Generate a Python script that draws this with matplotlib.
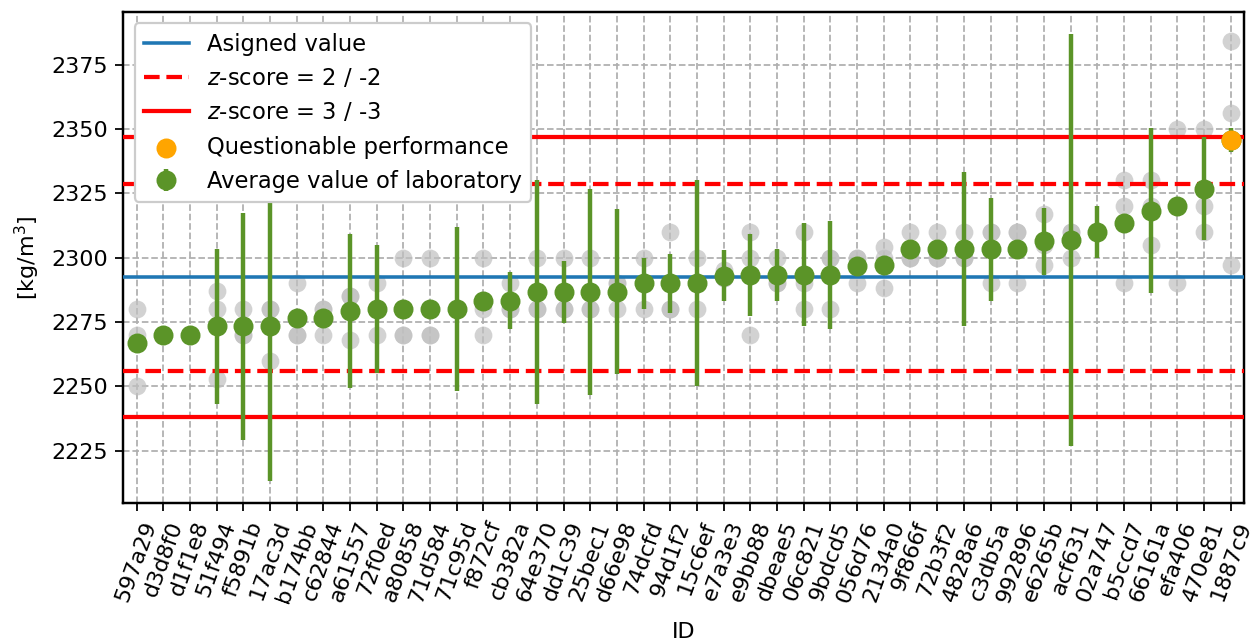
import numpy as np
import matplotlib
matplotlib.use("Agg")
import matplotlib.pyplot as plt

# Laboratory identifiers (sorted by average value)
lab_ids = [
    "597a29", "d3d8f0", "d1f1e8", "51f494", "f5891b", "17ac3d", "b174bb",
    "c62844", "a61557", "72f0ed", "a80858", "71d584", "71c95d", "f872cf",
    "cb382a", "64e370", "dd1c39", "25bec1", "d66e98", "74dcfd", "94d1f2",
    "15c6ef", "e7a3e3", "e9bb88", "dbeae5", "06c821", "9bdcd5", "056d76",
    "2134a0", "9f866f", "72b3f2", "4828a6", "c3db5a", "992896", "e6265b",
    "acf631", "02a747", "b5ccd7", "66161a", "efa406", "470e81", "1887c9",
]

# Individual measurements of each laboratory [kg/m3]
measurements = [
    [2280, 2270, 2250], [2270, 2270, 2270], [2270, 2270, 2270],
    [2287, 2280, 2253], [2280, 2270, 2270], [2280, 2280, 2260],
    [2290, 2270, 2270], [2280, 2280, 2270], [2285, 2285, 2268],
    [2290, 2280, 2270], [2300, 2270, 2270], [2300, 2270, 2270],
    [2280, 2280, 2280], [2300, 2280, 2270], [2290, 2280, 2280],
    [2300, 2280, 2280], [2300, 2280, 2280], [2300, 2280, 2280],
    [2290, 2290, 2280], [2300, 2290, 2280], [2310, 2280, 2280],
    [2300, 2290, 2280], [2295, 2292, 2292], [2310, 2300, 2270],
    [2300, 2290, 2290], [2310, 2290, 2280], [2300, 2300, 2280],
    [2300, 2300, 2290], [2304, 2300, 2288], [2310, 2300, 2300],
    [2310, 2300, 2300], [2310, 2300, 2300], [2310, 2310, 2290],
    [2310, 2310, 2290], [2317, 2305, 2297], [2310, 2310, 2300],
    [2310, 2310, 2310], [2330, 2320, 2290], [2330, 2320, 2305],
    [2350, 2320, 2290], [2350, 2320, 2310], [2384, 2356, 2297],
]

# Average value of each laboratory [kg/m3]
lab_means = [
    2266.7, 2270.0, 2270.0, 2273.3, 2273.3, 2273.3, 2276.7, 2276.7, 2279.3,
    2280.0, 2280.0, 2280.0, 2280.0, 2283.3, 2283.3, 2286.7, 2286.7, 2286.7,
    2286.7, 2290.0, 2290.0, 2290.0, 2293.0, 2293.3, 2293.3, 2293.3, 2293.3,
    2296.7, 2297.3, 2303.3, 2303.3, 2303.3, 2303.3, 2303.3, 2306.3, 2306.7,
    2310.0, 2313.3, 2318.3, 2320.0, 2326.7, 2345.7,
]

# Reported expanded uncertainty of each laboratory (0 = not reported)
lab_uncert = [
    0, 0, 0, 30, 44, 60, 0, 0, 30, 25, 0, 0, 32, 0, 11, 43.5, 12, 40, 32,
    10, 11.5, 40, 10, 16, 10, 20, 21, 0, 0, 0, 0, 30, 20, 0, 13, 80, 10, 0,
    32, 0, 20, 4.6,
]

assigned_value = 2292.4
sigma_pt = 18.15

green = "#5b9428"

fig = plt.figure(figsize=(1257 / 160, 640 / 160), dpi=160)
ax = fig.add_axes([0.098, 0.214, 0.8917, 0.767])

x = np.arange(len(lab_ids))
means = np.array(lab_means)
uncert = np.array(lab_uncert)

# individual results
for xi, vals in zip(x, measurements):
    ax.plot([xi] * len(vals), vals, "o", color="silver", alpha=0.7,
            markersize=8, markeredgewidth=0, zorder=2)

# reference lines
h_av = ax.axhline(assigned_value, color="#1f77b4", lw=1.6, zorder=3,
                  label="Asigned value")
h_z2 = ax.axhline(assigned_value + 2 * sigma_pt, color="red", ls="--",
                  lw=1.9, zorder=3, label="$z$-score = 2 / -2")
ax.axhline(assigned_value - 2 * sigma_pt, color="red", ls="--", lw=1.9,
           zorder=3)
h_z3 = ax.axhline(assigned_value + 3 * sigma_pt, color="red", lw=1.9,
                  zorder=3, label="$z$-score = 3 / -3")
ax.axhline(assigned_value - 3 * sigma_pt, color="red", lw=1.9, zorder=3)

# laboratory averages with uncertainty
h_avg = ax.errorbar(x, means, yerr=uncert, fmt="o", color=green,
                    ecolor=green, elinewidth=2.0, markersize=8, capsize=0,
                    zorder=4, label="Average value of laboratory")

# averages with questionable z-score (2 < |z| < 3)
z = (means - assigned_value) / sigma_pt
quest = (np.abs(z) > 2) & (np.abs(z) < 3)
h_q = ax.scatter(x[quest], means[quest], s=64, color="orange", zorder=5,
                 label="Questionable performance")

ax.set_xlim(-0.5, len(lab_ids) - 0.5)
ax.set_xticks(x)
ax.set_xticklabels(lab_ids, rotation=70, ha="center", fontsize=10)
ax.set_yticks([2225, 2250, 2275, 2300, 2325, 2350, 2375])
ax.tick_params(axis="y", labelsize=10)
ax.set_xlabel("ID", fontsize=10, labelpad=7.5)
ax.set_ylabel("[kg/m$^3$]", fontsize=10)
ax.grid(True, ls="--", color="#b0b0b0", lw=0.8, zorder=0)
ax.set_axisbelow(True)
for sp in ax.spines.values():
    sp.set_linewidth(1.1)

leg = ax.legend(handles=[h_av, h_z2, h_z3, h_q, h_avg], loc="upper left",
                fontsize=10.2, framealpha=1.0)
leg.set_zorder(10)

fig.savefig("out.png", dpi=160)
